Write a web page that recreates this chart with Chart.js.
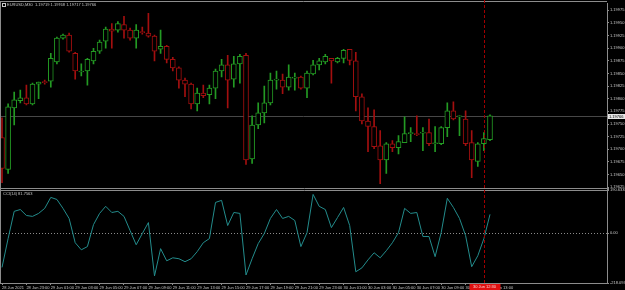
<!DOCTYPE html>
<html>
<head>
<meta charset="utf-8">
<script src="https://cdn.jsdelivr.net/npm/chart.js@4.4.1/dist/chart.umd.min.js"></script>
<style>
html,body{margin:0;padding:0;background:#000;overflow:hidden}
#wrap{width:625px;height:290px;position:relative}
</style>
</head>
<body>
<div id="wrap"><canvas id="c" width="625" height="290"></canvas></div>
<script>
// symbol and indicator names
const symbolName = "EURUSD,M30";
const cciName = "CCI(14)";

// OHLC of the M30 bars
const openP = [1.19723,1.19660,1.19782,1.19796,1.19802,1.19790,1.19829,1.19833,1.19835,1.19873,
  1.19920,1.19926,1.19890,1.19853,1.19855,1.19875,1.19894,1.19914,1.19938,1.19936,
  1.19947,1.19936,1.19920,1.19932,1.19930,1.19924,1.19898,1.19904,1.19878,1.19861,
  1.19837,1.19829,1.19790,1.19811,1.19808,1.19821,1.19855,1.19867,1.19839,1.19869,
  1.19886,1.19681,1.19748,1.19772,1.19792,1.19837,1.19837,1.19823,1.19841,1.19843,
  1.19821,1.19849,1.19867,1.19873,1.19880,1.19873,1.19880,1.19898,1.19875,1.19804,
  1.19756,1.19745,1.19707,1.19679,1.19711,1.19703,1.19713,1.19731,1.19731,1.19732,
  1.19733,1.19711,1.19711,1.19743,1.19776,1.19764,1.19760,1.19713,1.19676,1.19711,1.19719];
const highP = [1.19762,1.19790,1.19813,1.19817,1.19827,1.19831,1.19833,1.19837,1.19890,1.19922,
  1.19928,1.19930,1.19892,1.19869,1.19880,1.19900,1.19916,1.19942,1.19949,1.19953,
  1.19963,1.19940,1.19947,1.19942,1.19969,1.19926,1.19936,1.19906,1.19882,1.19863,
  1.19841,1.19831,1.19821,1.19827,1.19827,1.19859,1.19878,1.19886,1.19884,1.19888,
  1.19890,1.19766,1.19792,1.19825,1.19851,1.19855,1.19849,1.19867,1.19851,1.19845,
  1.19855,1.19876,1.19880,1.19888,1.19880,1.19882,1.19898,1.19898,1.19892,1.19810,
  1.19782,1.19778,1.19737,1.19713,1.19717,1.19727,1.19764,1.19743,1.19766,1.19743,
  1.19760,1.19745,1.19745,1.19792,1.19794,1.19766,1.19776,1.19737,1.19713,1.19733,1.19768];
const lowP = [1.19634,1.19652,1.19748,1.19792,1.19788,1.19788,1.19800,1.19829,1.19823,1.19869,
  1.19918,1.19892,1.19839,1.19845,1.19827,1.19869,1.19890,1.19900,1.19900,1.19932,
  1.19920,1.19916,1.19900,1.19928,1.19922,1.19875,1.19890,1.19871,1.19855,1.19821,
  1.19804,1.19780,1.19776,1.19802,1.19790,1.19800,1.19843,1.19782,1.19823,1.19831,
  1.19670,1.19672,1.19741,1.19752,1.19788,1.19819,1.19810,1.19817,1.19817,1.19819,
  1.19802,1.19847,1.19857,1.19869,1.19831,1.19871,1.19871,1.19867,1.19776,1.19750,
  1.19695,1.19701,1.19632,1.19652,1.19695,1.19691,1.19713,1.19715,1.19727,1.19697,
  1.19707,1.19695,1.19709,1.19725,1.19758,1.19727,1.19707,1.19644,1.19666,1.19697,1.19717];
const closeP = [1.19662,1.19784,1.19798,1.19802,1.19790,1.19829,1.19833,1.19832,1.19880,1.19920,
  1.19926,1.19894,1.19855,1.19855,1.19878,1.19894,1.19912,1.19938,1.19934,1.19949,
  1.19936,1.19920,1.19936,1.19931,1.19924,1.19894,1.19904,1.19878,1.19861,1.19837,
  1.19829,1.19790,1.19811,1.19806,1.19821,1.19855,1.19867,1.19837,1.19869,1.19884,
  1.19679,1.19748,1.19772,1.19792,1.19837,1.19838,1.19823,1.19843,1.19842,1.19821,
  1.19851,1.19867,1.19875,1.19884,1.19875,1.19880,1.19896,1.19876,1.19804,1.19756,
  1.19745,1.19705,1.19679,1.19711,1.19703,1.19715,1.19731,1.19732,1.19729,1.19733,
  1.19711,1.19712,1.19743,1.19776,1.19760,1.19765,1.19711,1.19679,1.19711,1.19721,1.19766];

// CCI values
const cciVals = [-150,-24,95,103,77,73,86,108,156,147,
  108,64,-42,-73,-59,37,86,117,90,95,
  73,11,-51,-2,46,-187,-68,-121,-108,-112,
  -125,-112,-81,-42,-24,134,143,33,90,86,
  -183,-112,-46,-2,64,103,64,73,55,-59,
  2,169,117,103,24,68,112,33,-169,-152,
  -117,-86,-108,-77,-42,2,108,86,90,-15,
  -15,-103,2,152,112,64,-11,-147,-99,-24,81.7563];

// axis ticks
const priceTicks = [1.19975,1.19950,1.19925,1.19900,1.19875,1.19850,1.19825,1.19800,
  1.19775,1.19750,1.19725,1.19700,1.19675,1.19650,1.19625];
const cciTicks = [190.6338, 0, -218.0937];
const timeTickBars = [0,4,8,12,16,20,24,28,32,36,40,44,48,52,56,60,64,68,72,76,80];
const timeTickLabels = ["28 Jun 2021","28 Jun 23:00","29 Jun 01:00","29 Jun 03:00","29 Jun 05:00",
  "29 Jun 07:00","29 Jun 09:00","29 Jun 11:00","29 Jun 13:00","29 Jun 15:00","29 Jun 17:00",
  "29 Jun 19:00","29 Jun 21:00","29 Jun 23:00","30 Jun 01:00","30 Jun 03:00","30 Jun 05:00",
  "30 Jun 07:00","30 Jun 09:00","30 Jun 11:00","30 Jun 13:00"];

// crosshair position
const cursorBar = 79;
const cursorLabel = "30 Jun 12:30";

const upCol = "#239a23", downCol = "#a30f0f", txtCol = "#c8c8c8", frameCol = "#8c8c8c";
const tinyFont = {family: "Liberation Sans", size: 4};
const last = closeP.length - 1;
const candleCol = openP.map((o,i)=> closeP[i] >= o ? upCol : downCol);

function fixWidth(s){ s.width = 18; }

// frame, lines and labels that MT4 draws around the series
const mtDecor = {
  id: "mtDecor",
  beforeDraw(chart){
    const ctx = chart.ctx;
    ctx.save();
    ctx.fillStyle = "#000";
    ctx.fillRect(0,0,chart.width,chart.height);
    ctx.restore();
  },
  beforeDatasetsDraw(chart){
    const {ctx, chartArea:a, scales} = chart;
    ctx.save();
    // bid line
    const py = Math.round(scales.y.getPixelForValue(closeP[last])) + 0.5;
    ctx.strokeStyle = "#474747"; ctx.lineWidth = 1;
    ctx.beginPath(); ctx.moveTo(a.left, py); ctx.lineTo(a.right, py); ctx.stroke();
    // cci zero level
    const zy = Math.round(scales.cci.getPixelForValue(0)) + 0.5;
    ctx.strokeStyle = "#8a8a8a"; ctx.setLineDash([1,2]);
    ctx.beginPath(); ctx.moveTo(a.left, zy); ctx.lineTo(a.right, zy); ctx.stroke();
    ctx.restore();
  },
  afterDraw(chart){
    const {ctx, chartArea:a, scales} = chart;
    ctx.save();
    // frame
    ctx.strokeStyle = frameCol; ctx.lineWidth = 1;
    const sep = Math.round(scales.y.bottom);
    ctx.beginPath();
    ctx.moveTo(0, 1.5); ctx.lineTo(a.right, 1.5);
    ctx.moveTo(0.5, 1); ctx.lineTo(0.5, a.bottom);
    ctx.moveTo(0, sep - 0.5); ctx.lineTo(a.right + 2, sep - 0.5);
    ctx.moveTo(0, sep + 1.5); ctx.lineTo(a.right + 2, sep + 1.5);
    ctx.stroke();
    // crosshair
    const cx = Math.round(scales.x.getPixelForValue(cursorBar)) + 0.5;
    ctx.strokeStyle = "#a00000"; ctx.setLineDash([3,2]);
    ctx.beginPath(); ctx.moveTo(cx, 0); ctx.lineTo(cx, a.bottom); ctx.stroke();
    ctx.setLineDash([]);
    ctx.fillStyle = "#e01010";
    ctx.fillRect(cx - 15, a.bottom + 1, 31, 6);
    ctx.font = '4px "Liberation Sans"';
    ctx.textBaseline = "middle";
    ctx.textAlign = "center";
    ctx.fillStyle = "#ffd0d0";
    ctx.fillText(cursorLabel, cx, a.bottom + 4);
    // bid price box
    const py = Math.round(scales.y.getPixelForValue(closeP[last]));
    ctx.fillStyle = "#e6e6e6";
    ctx.fillRect(a.right + 1, py - 2, 17, 5);
    ctx.fillStyle = "#000"; ctx.textAlign = "left";
    ctx.fillText(closeP[last].toFixed(5), a.right + 2, py + 0.5);
    // headers
    ctx.fillStyle = txtCol;
    ctx.fillText(symbolName + "  " + openP[last].toFixed(5) + " " + highP[last].toFixed(5) + " " +
      lowP[last].toFixed(5) + " " + closeP[last].toFixed(5), 7, 5);
    ctx.fillText(cciName + " " + cciVals[last].toFixed(4), 3, sep + 5);
    ctx.strokeStyle = txtCol;
    ctx.strokeRect(2.5, 3.5, 3, 3);
    ctx.restore();
  }
};

const pxPerBar = 6.1;
const xMin = -2 / pxPerBar;

new Chart(document.getElementById("c"), {
  type: "bar",
  data: {
    datasets: [
      {
        label: "body",
        data: openP.map((o,i)=>({x:i, y:[o, closeP[i]]})),
        backgroundColor: "#000",
        borderColor: candleCol,
        borderWidth: 1,
        borderSkipped: false,
        barThickness: 5,
        minBarLength: 1,
        grouped: false,
        yAxisID: "y",
        order: 0
      },
      {
        label: "wick",
        data: lowP.map((l,i)=>({x:i, y:[l, highP[i]]})),
        backgroundColor: candleCol,
        borderWidth: 0,
        barThickness: 1,
        grouped: false,
        yAxisID: "y",
        order: 1
      },
      {
        type: "line",
        label: "cci",
        data: cciVals.map((v,i)=>({x:i, y:v})),
        borderColor: "#238c8c",
        borderWidth: 1,
        pointRadius: 0,
        tension: 0,
        yAxisID: "cci",
        order: 2
      }
    ]
  },
  options: {
    responsive: false,
    animation: false,
    devicePixelRatio: 1,
    layout: {padding: {top: 2, left: 0, right: 0, bottom: 0}},
    plugins: {legend: {display: false}, tooltip: {enabled: false}},
    scales: {
      x: {
        type: "linear",
        position: "bottom",
        offset: false,
        min: xMin,
        max: xMin + 607 / pxPerBar,
        afterBuildTicks: s => { s.ticks = timeTickBars.map(v=>({value:v})); },
        afterFit: s => { s.height = 7; },
        grid: {offset: false, drawOnChartArea: false, drawTicks: true, tickLength: 2, color: frameCol},
        border: {display: true, color: frameCol},
        ticks: {
          autoSkip: false, maxRotation: 0, align: "start", padding: 0,
          color: txtCol, font: tinyFont,
          callback: (v, i) => timeTickLabels[i]
        }
      },
      y: {
        type: "linear",
        position: "right",
        stack: "panes",
        stackWeight: 187,
        min: 1.196204,
        max: 1.199888,
        afterBuildTicks: s => { s.ticks = priceTicks.map(v=>({value:v})); },
        afterFit: fixWidth,
        grid: {drawOnChartArea: false, drawTicks: true, tickLength: 2, color: frameCol},
        border: {display: true, color: frameCol},
        ticks: {autoSkip: false, padding: 1, color: txtCol, font: tinyFont, callback: v => v.toFixed(5)}
      },
      cci: {
        type: "linear",
        position: "right",
        stack: "panes",
        stackWeight: 94,
        min: -218.0937,
        max: 190.6338,
        afterBuildTicks: s => { s.ticks = cciTicks.map(v=>({value:v})); },
        afterFit: fixWidth,
        grid: {drawOnChartArea: false, drawTicks: true, tickLength: 2, color: frameCol},
        border: {display: true, color: frameCol},
        ticks: {autoSkip: false, padding: 1, color: txtCol, font: tinyFont, callback: v => v === 0 ? "0.00" : v.toFixed(4)}
      }
    }
  },
  plugins: [mtDecor]
});
</script>
</body>
</html>
